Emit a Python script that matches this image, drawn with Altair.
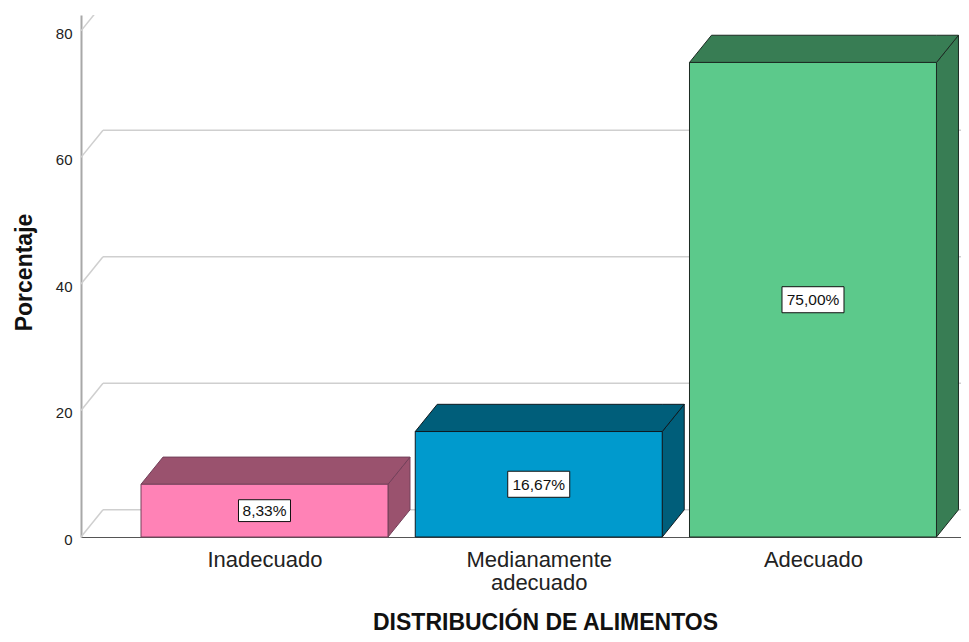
import json
import altair as alt
import pandas as pd

# ---- data ----
categories = ["Inadecuado", "Medianamente adecuado", "Adecuado"]
values = [8.33, 16.67, 75.00]
value_labels = ["8,33%", "16,67%", "75,00%"]
y_ticks = [0, 20, 40, 60, 80]

# ---- styles ----
front_colors = ["#FF82B6", "#009ACD", "#5CC98B"]
dark_colors = ["#9A526E", "#005E7A", "#387D54"]
edge_colors = ["#74405A", "#0E1A20", "#1C2A22"]
FONT = "Liberation Sans"

# geometry of the pseudo-3D look (in data units)
HALF = 0.4503      # half bar width (category units)
DX = 0.0802        # depth offset along x (category units)
DY = 4.3           # depth offset along y (percent units)
XMIN, XMAX = -0.6691, 2.5397
YMAX = 82.5

idx = list(range(len(categories)))

bars = pd.DataFrame({"cat": categories, "idx": idx, "val": values, "lab": value_labels})
bars["x0"] = bars["idx"] - HALF
bars["x1"] = bars["idx"] + HALF
bars["y0"] = 0.0
bars["mid"] = bars["val"] / 2
bars["bs"] = (10 * bars["lab"].str.len() + 2) ** 2

top_rows, side_rows = [], []
for c, i, v in zip(categories, idx, values):
    x0, x1 = i - HALF, i + HALF
    top_rows += [
        dict(cat=c, x=x0, lo=v, hi=v),
        dict(cat=c, x=x0 + DX, lo=v, hi=v + DY),
        dict(cat=c, x=x1, lo=v, hi=v + DY),
        dict(cat=c, x=x1 + DX, lo=v + DY, hi=v + DY),
    ]
    side_rows += [
        dict(cat=c, x=x1, lo=0.0, hi=v),
        dict(cat=c, x=x1 + DX, lo=DY, hi=v + DY),
    ]
top_df = pd.DataFrame(top_rows)
side_df = pd.DataFrame(side_rows)

grid = pd.DataFrame({"v": y_ticks})
grid["vb"] = grid["v"] + DY
grid["xa"] = XMIN
grid["xb"] = XMIN + DX
grid["xc"] = XMAX

xs = alt.Scale(domain=[XMIN, XMAX], nice=False, zero=False)
ys = alt.Scale(domain=[0, YMAX], nice=False, zero=False)

label_expr = "split(" + json.dumps(categories) + "[datum.value], ' ')"

x_axis = alt.Axis(
    values=idx, labelExpr=label_expr, title="DISTRIBUCIÓN DE ALIMENTOS",
    grid=False, ticks=False, tickSize=0, domainColor="#555555", domainWidth=1,
    labelFont=FONT, labelFontSize=22, labelColor="#222222", labelPadding=12,
    labelLineHeight=23, labelFlush=False, labelOverlap=False, labelBaseline="top",
    titleFont=FONT, titleFontSize=23, titleFontWeight="bold", titleColor="#111111",
    titleBaseline="alphabetic", titleX=464, titleY=92, titleAlign="center",
)
y_axis = alt.Axis(
    values=y_ticks, format="d", title="Porcentaje",
    grid=False, ticks=False, tickSize=0, domainColor="#A8A8A8", domainWidth=2,
    labelFont=FONT, labelFontSize=15, labelColor="#222222", labelPadding=9,
    labelOffset=2.5, labelFlush=False,
    titleFont=FONT, titleFontSize=23, titleFontWeight="bold", titleColor="#111111",
    titleAngle=270, titleX=-50, titleY=257, titleAlign="center", titleBaseline="alphabetic",
)

front_scale = alt.Scale(domain=categories, range=front_colors)
dark_scale = alt.Scale(domain=categories, range=dark_colors)
edge_scale = alt.Scale(domain=categories, range=edge_colors)

grid_diag = alt.Chart(grid).mark_rule(color="#CFCFCF", strokeWidth=1.5, clip=True).encode(
    x=alt.X("xa:Q", scale=xs, axis=x_axis),
    x2="xb:Q",
    y=alt.Y("v:Q", scale=ys, axis=y_axis),
    y2="vb:Q",
)
grid_back = alt.Chart(grid).mark_rule(color="#CFCFCF", strokeWidth=1.5, clip=True).encode(
    x=alt.X("xb:Q", scale=xs, axis=x_axis),
    x2="xc:Q",
    y=alt.Y("vb:Q", scale=ys, axis=y_axis),
)

side = alt.Chart(side_df).mark_area(strokeWidth=1, opacity=1).encode(
    x=alt.X("x:Q", scale=xs, axis=x_axis),
    y=alt.Y("lo:Q", scale=ys, axis=y_axis, stack=None),
    y2="hi:Q",
    color=alt.Color("cat:N", scale=dark_scale, legend=None),
    stroke=alt.Stroke("cat:N", scale=edge_scale, legend=None),
)
top = alt.Chart(top_df).mark_area(strokeWidth=1, opacity=1).encode(
    x=alt.X("x:Q", scale=xs, axis=x_axis),
    y=alt.Y("lo:Q", scale=ys, axis=y_axis, stack=None),
    y2="hi:Q",
    color=alt.Color("cat:N", scale=dark_scale, legend=None),
    stroke=alt.Stroke("cat:N", scale=edge_scale, legend=None),
)
front = alt.Chart(bars).mark_rect(strokeWidth=1).encode(
    x=alt.X("x0:Q", scale=xs, axis=x_axis),
    x2="x1:Q",
    y=alt.Y("y0:Q", scale=ys, axis=y_axis),
    y2="val:Q",
    color=alt.Color("cat:N", scale=front_scale, legend=None),
    stroke=alt.Stroke("cat:N", scale=edge_scale, legend=None),
)
boxes = alt.Chart(bars).mark_point(
    shape="M-1,-0.42L1,-0.42L1,0.42L-1,0.42Z", filled=True, fill="white",
    stroke="#111111", strokeWidth=1, opacity=1,
).encode(
    x=alt.X("idx:Q", scale=xs, axis=x_axis),
    y=alt.Y("mid:Q", scale=ys, axis=y_axis),
    size=alt.Size("bs:Q", scale=None, legend=None),
)
texts = alt.Chart(bars).mark_text(
    font=FONT, fontSize=15.5, color="#111111", align="center", baseline="middle", dy=0.5,
).encode(
    x=alt.X("idx:Q", scale=xs, axis=x_axis),
    y=alt.Y("mid:Q", scale=ys, axis=y_axis),
    text="lab:N",
)

chart = alt.layer(grid_diag, grid_back, side, top, front, boxes, texts).resolve_scale(
    color="independent"
).properties(
    width=880,
    height=522,
    autosize=alt.AutoSizeParams(type="none"),
    padding={"left": 73, "top": 7, "right": 0, "bottom": 97},
    background="white",
).configure_view(stroke=None)

chart.save("out.html", embed_options={"renderer": "svg", "actions": False})
